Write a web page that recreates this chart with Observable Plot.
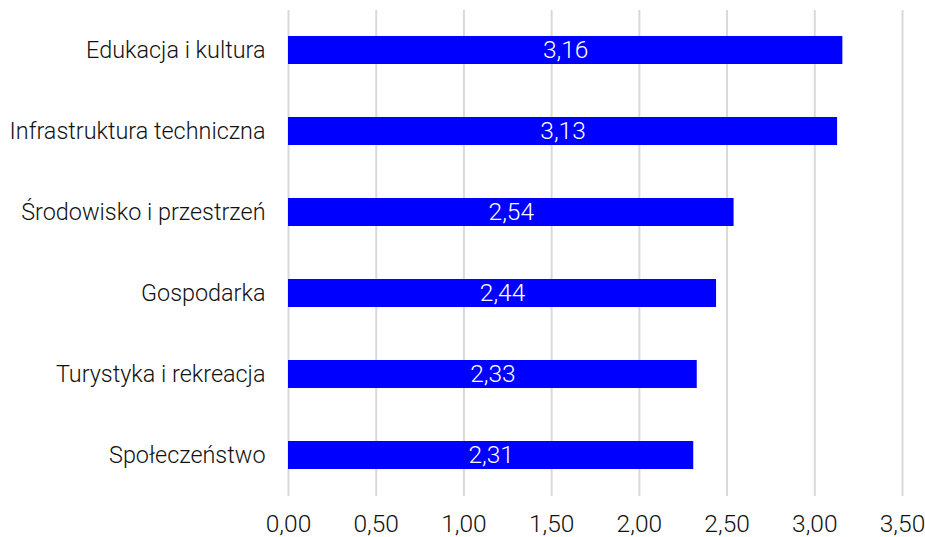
<!DOCTYPE html>
<html>
<head>
<meta charset="utf-8">
<script src="https://cdn.jsdelivr.net/npm/d3@7"></script>
<script src="https://cdn.jsdelivr.net/npm/@observablehq/plot@0.6"></script>
<style>
  html, body { margin: 0; padding: 0; background: #fff; }
  #chart svg { display: block; }
  #chart svg g[aria-label="x-axis tick label"] text { font-size: 24.5px; }
</style>
</head>
<body>
<div id="chart"></div>
<script>
const categories = ["Edukacja i kultura", "Infrastruktura techniczna", "Środowisko i przestrzeń", "Gospodarka", "Turystyka i rekreacja", "Społeczeństwo"];
const values = [3.16, 3.13, 2.54, 2.44, 2.33, 2.31];
const xTicks = [0, 0.5, 1, 1.5, 2, 2.5, 3, 3.5];

const data = categories.map((c, i) => ({category: c, value: values[i]}));
const fmt = v => v.toFixed(2).replace(".", ",");

const chart = Plot.plot({
  width: 925,
  height: 537,
  marginTop: 10,
  marginBottom: 41,
  marginLeft: 288,
  marginRight: 23,
  style: {fontFamily: "Roboto, 'Liberation Sans', sans-serif", fontSize: "23.4px", fontWeight: 300, color: "#111", background: "#fff"},
  x: {domain: [0, 3.5], ticks: xTicks, tickFormat: fmt, tickSize: 0, tickPadding: 18, label: null, grid: false},
  y: {domain: categories, label: null, tickSize: 0, tickPadding: 23, paddingInner: 0.654, paddingOuter: 0.32},
  marks: [
    Plot.ruleX(xTicks, {stroke: "#d9d9d9", strokeWidth: 2}),
    Plot.barX(data, {y: "category", x: "value", fill: "#0000ff"}),
    Plot.text(data, {y: "category", x: d => d.value / 2, text: d => fmt(d.value), fill: "white", fontSize: 24.5, fontWeight: 300})
  ]
});
document.getElementById("chart").appendChild(chart);
</script>
</body>
</html>
